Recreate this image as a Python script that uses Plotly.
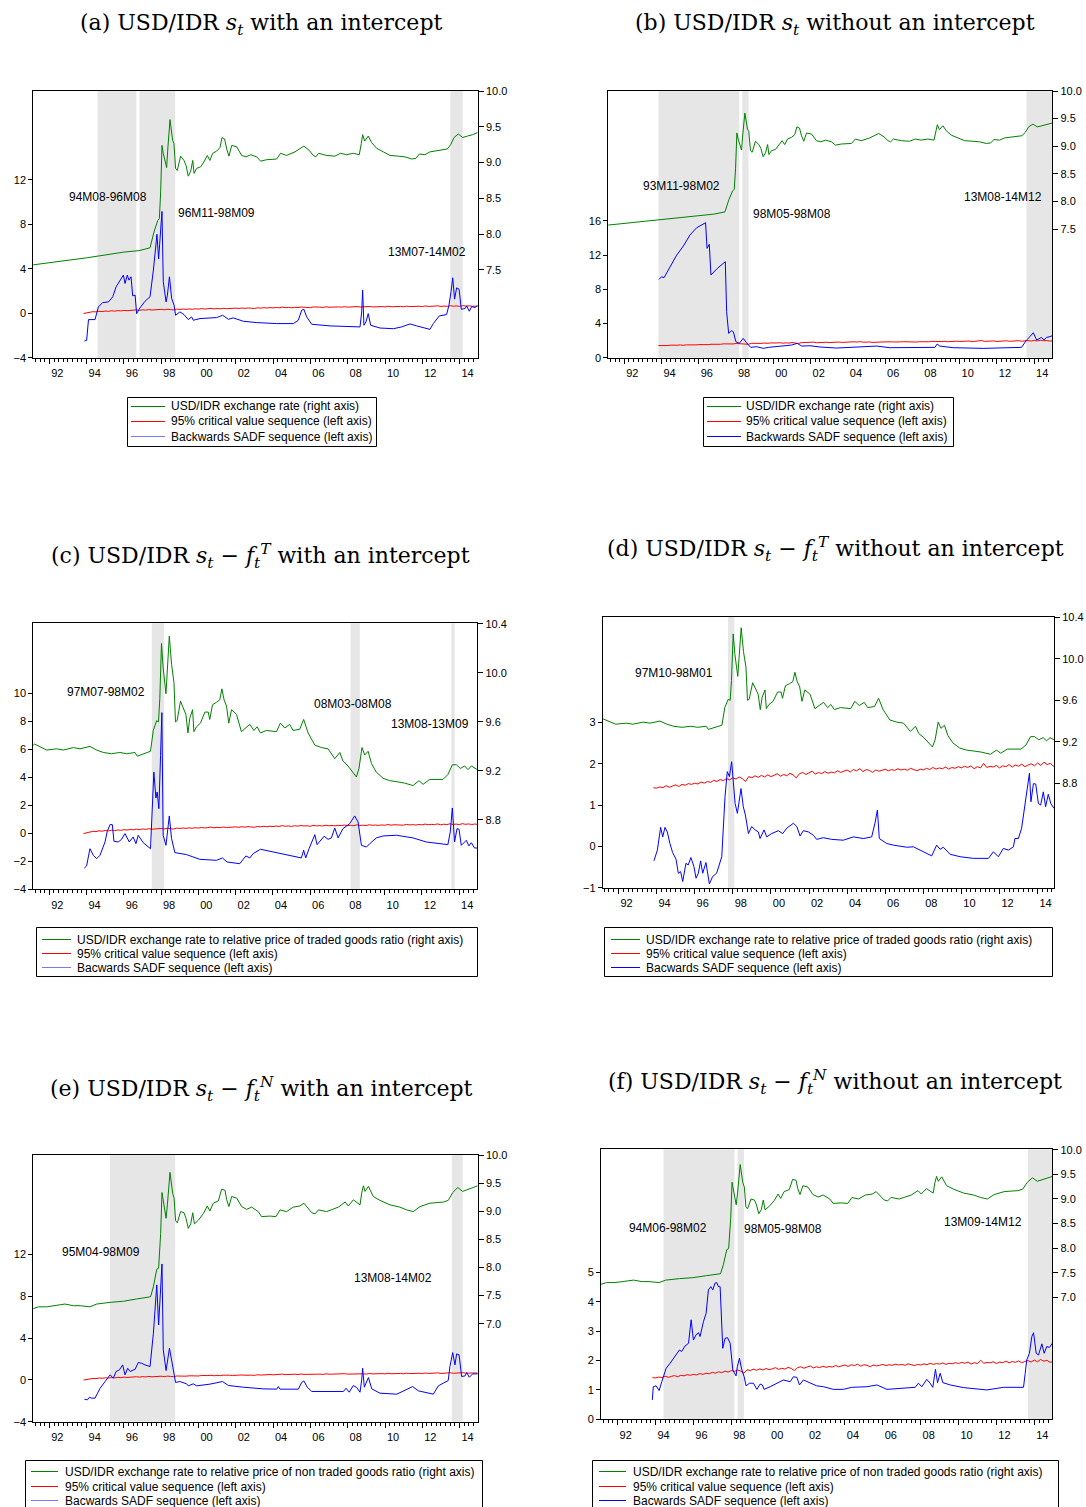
import plotly.graph_objects as go

# ------------------------------------------------------------------ data
# decimal years (year + (month-1)/12)

# USD/IDR s_t (right axis, panels a & b)
S_X = [1991.08, 1994.0, 1996.0, 1996.8, 1997.4, 1997.61, 1997.81, 1997.9, 1997.97, 1998.04,
       1998.11, 1998.2, 1998.29, 1998.36, 1998.47, 1998.61, 1998.68, 1998.77, 1998.86, 1999.04,
       1999.22, 1999.33, 1999.45, 1999.58, 1999.69, 1999.76, 1999.9, 2000.11, 2000.29, 2000.47,
       2000.61, 2000.76, 2000.97, 2001.15, 2001.26, 2001.4, 2001.51, 2001.63, 2001.78, 2002.05,
       2002.31, 2002.55, 2002.8, 2003.12, 2003.33, 2003.65, 2004.19, 2004.4, 2004.72, 2005.17,
       2005.65, 2005.94, 2006.15, 2006.29, 2006.44, 2006.87, 2007.31, 2007.62, 2007.94, 2008.29,
       2008.62, 2008.73, 2008.8, 2008.91, 2009.1, 2009.28, 2009.55, 2009.91, 2010.27, 2010.71,
       2011.07, 2011.43, 2011.66, 2011.84, 2012.14, 2012.41, 2012.95, 2013.34, 2013.52, 2013.7,
       2013.93, 2014.16, 2014.41, 2014.7, 2014.97]
S_Y = [7.57, 7.67, 7.75, 7.77, 7.81, 8.03, 8.19, 8.22, 8.59, 9.24,
       9.13, 9.01, 8.93, 9.22, 9.60, 9.31, 9.27, 8.92, 8.89, 9.09,
       9.03, 8.96, 8.81, 8.88, 9.03, 8.85, 8.92, 8.94, 9.01, 9.10,
       9.03, 9.13, 9.16, 9.21, 9.35, 9.33, 9.19, 9.09, 9.24, 9.22,
       9.10, 9.08, 9.11, 9.08, 9.02, 9.04, 9.05, 9.13, 9.10, 9.15,
       9.23, 9.17, 9.10, 9.08, 9.13, 9.10, 9.09, 9.13, 9.11, 9.13,
       9.11, 9.27, 9.39, 9.30, 9.37, 9.28, 9.20, 9.15, 9.10, 9.09,
       9.08, 9.05, 9.06, 9.12, 9.11, 9.15, 9.17, 9.19, 9.25, 9.35,
       9.40, 9.35, 9.37, 9.39, 9.42]

# USD/IDR s_t - f_t^T (right axis, panels c & d)
T_X = [1991.08, 1991.2, 1991.86, 1992.4, 1992.75, 1993.29, 1993.65, 1994.18, 1994.54, 1994.9,
       1995.34, 1995.79, 1996.15, 1996.6, 1996.72, 1997.13, 1997.43, 1997.58, 1997.76, 1997.86,
       1997.93, 1998.02, 1998.11, 1998.26, 1998.44, 1998.56, 1998.69, 1998.77, 1998.86, 1999.04,
       1999.22, 1999.33, 1999.44, 1999.54, 1999.69, 1999.76, 1999.9, 2000.11, 2000.35, 2000.53,
       2000.61, 2000.76, 2000.97, 2001.15, 2001.26, 2001.38, 2001.51, 2001.63, 2001.78, 2002.05,
       2002.31, 2002.58, 2002.76, 2002.98, 2003.15, 2003.33, 2003.65, 2004.19, 2004.4, 2004.64,
       2004.9, 2005.08, 2005.44, 2005.65, 2005.89, 2006.25, 2006.61, 2006.96, 2007.32, 2007.59,
       2007.76, 2008.03, 2008.48, 2008.62, 2008.78, 2008.93, 2009.11, 2009.29, 2009.55, 2009.91,
       2010.27, 2010.71, 2011.07, 2011.52, 2011.84, 2012.06, 2012.41, 2013.13, 2013.39, 2013.63,
       2013.84, 2014.06, 2014.29, 2014.47, 2014.65, 2014.97]
T_Y = [9.40, 9.42, 9.37, 9.38, 9.37, 9.39, 9.38, 9.40, 9.37, 9.35,
       9.34, 9.35, 9.34, 9.35, 9.32, 9.34, 9.36, 9.53, 9.61, 9.60,
       9.79, 10.24, 10.04, 9.83, 10.30, 10.07, 9.92, 9.60, 9.61, 9.77,
       9.71, 9.66, 9.51, 9.63, 9.70, 9.52, 9.56, 9.59, 9.68, 9.68,
       9.62, 9.74, 9.76, 9.78, 9.87, 9.78, 9.73, 9.59, 9.70, 9.66,
       9.52, 9.56, 9.58, 9.53, 9.56, 9.51, 9.53, 9.52, 9.59, 9.55,
       9.58, 9.53, 9.54, 9.62, 9.51, 9.41, 9.39, 9.38, 9.30, 9.35,
       9.28, 9.24, 9.15, 9.22, 9.39, 9.33, 9.36, 9.26, 9.19, 9.14,
       9.12, 9.11, 9.10, 9.08, 9.12, 9.09, 9.13, 9.13, 9.17, 9.25,
       9.25, 9.22, 9.24, 9.21, 9.24, 9.21]

# USD/IDR s_t - f_t^N (right axis, panels e & f)
N_X = [1991.08, 1991.41, 1991.86, 1992.4, 1992.84, 1993.29, 1993.65, 1994.18, 1994.54, 1995.26,
       1995.97, 1996.68, 1997.43, 1997.58, 1997.76, 1997.86, 1997.97, 1998.04, 1998.11, 1998.26,
       1998.33, 1998.47, 1998.61, 1998.69, 1998.77, 1998.86, 1999.04, 1999.22, 1999.33, 1999.45,
       1999.58, 1999.69, 1999.78, 2000.0, 2000.27, 2000.47, 2000.61, 2000.79, 2001.06, 2001.24,
       2001.42, 2001.51, 2001.63, 2001.78, 2002.05, 2002.31, 2002.58, 2002.85, 2003.2, 2003.38,
       2003.83, 2004.15, 2004.37, 2004.72, 2005.08, 2005.44, 2005.65, 2005.94, 2006.07, 2006.25,
       2006.43, 2006.87, 2007.14, 2007.5, 2007.86, 2008.03, 2008.3, 2008.66, 2008.75, 2008.84,
       2008.93, 2009.11, 2009.37, 2009.73, 2010.27, 2010.8, 2011.16, 2011.52, 2011.88, 2012.41,
       2013.13, 2013.39, 2013.63, 2013.9, 2014.16, 2014.47, 2014.7, 2014.97]
N_Y = [7.26, 7.30, 7.30, 7.33, 7.35, 7.32, 7.32, 7.30, 7.35, 7.38,
       7.40, 7.44, 7.48, 7.66, 7.97, 7.99, 8.61, 9.34, 9.21, 8.88,
       9.12, 9.70, 9.33, 9.24, 8.84, 8.80, 9.00, 8.98, 8.88, 8.70,
       8.78, 8.98, 8.78, 8.85, 8.97, 9.10, 9.01, 9.15, 9.19, 9.40,
       9.38, 9.21, 9.09, 9.27, 9.24, 9.09, 9.04, 9.08, 9.00, 8.91,
       8.92, 8.91, 9.03, 9.00, 9.08, 9.10, 9.15, 9.03, 8.98, 8.96,
       9.03, 9.00, 9.03, 9.08, 9.17, 9.10, 9.21, 9.12, 9.33, 9.46,
       9.36, 9.45, 9.27, 9.20, 9.12, 9.08, 9.03, 9.00, 9.09, 9.15,
       9.17, 9.20, 9.34, 9.43, 9.36, 9.40, 9.43, 9.46]

# Backwards SADF sequences (left axis)
BA_X = [1993.88, 1994.0, 1994.1, 1994.45, 1994.63, 1994.86, 1995.17, 1995.4, 1995.58, 1995.76,
        1995.97, 1996.06, 1996.18, 1996.27, 1996.38, 1996.47, 1996.6, 1996.68, 1996.86, 1997.13,
        1997.4, 1997.58, 1997.77, 1997.86, 1997.97, 1998.04, 1998.11, 1998.26, 1998.33, 1998.44,
        1998.56, 1998.69, 1998.77, 1999.0, 1999.22, 1999.45, 1999.63, 1999.72, 2000.08, 2000.61,
        2000.97, 2001.29, 2001.6, 2001.87, 2002.4, 2003.12, 2004.19, 2005.08, 2005.35, 2005.53,
        2005.65, 2005.8, 2006.07, 2007.05, 2008.12, 2008.66, 2008.75, 2008.8, 2008.87, 2008.98,
        2009.1, 2009.23, 2009.73, 2010.45, 2010.89, 2011.34, 2011.7, 2012.41, 2012.59, 2012.91,
        2013.3, 2013.43, 2013.54, 2013.63, 2013.73, 2013.84, 2013.97, 2014.09, 2014.29, 2014.38,
        2014.52, 2014.65, 2014.82, 2014.97]
BA_Y = [-2.5, -2.44, -0.57, -0.57, 0.57, 0.96, 1.02, 1.48, 2.38, 2.83,
        3.43, 2.68, 3.43, 2.98, 3.28, 1.57, 1.63, -0.03, 0.48, 1.08,
        1.48, 3.89, 7.11, 4.88, 7.95, 9.16, 2.83, 1.02, 1.63, 3.28,
        1.33, 0.72, -0.18, 0.12, -0.12, -0.57, -0.33, -0.63, -0.48, -0.39,
        -0.39, -0.18, -0.54, -0.42, -0.72, -0.84, -0.93, -0.93, -0.63, 0.27,
        0.36, -0.33, -0.99, -1.14, -1.23, -1.23, 0.12, 2.08, -1.08, -0.78,
        -0.03, -1.08, -1.33, -1.39, -1.23, -0.96, -1.14, -1.45, -0.93, -0.24,
        -0.12, 0.72, 1.93, 3.19, 1.27, 2.29, 2.17, 0.36, 0.42, 0.66,
        0.18, 0.60, 0.51, 0.72]

BB_X = [1993.86, 1994.0, 1994.13, 1994.45, 1994.81, 1995.17, 1995.52, 1995.88, 1996.06, 1996.24,
        1996.36, 1996.44, 1996.56, 1996.65, 1996.99, 1997.42, 1997.49, 1997.6, 1997.76, 1997.85,
        1997.99, 1998.17, 1998.38, 1998.56, 1998.78, 1999.1, 1999.46, 1999.73, 2000.35, 2000.98,
        2001.28, 2001.52, 2001.96, 2002.5, 2003.39, 2004.29, 2005.54, 2006.25, 2007.68, 2008.67,
        2008.79, 2008.93, 2009.65, 2011.26, 2013.32, 2013.59, 2013.77, 2013.95, 2014.13, 2014.39,
        2014.52, 2014.66, 2014.84, 2014.97]
BB_Y = [9.16, 9.47, 9.36, 10.64, 12.0, 13.06, 14.35, 15.2, 15.44, 15.6,
        15.79, 12.79, 13.26, 9.67, 10.45, 11.23, 5.38, 2.85, 3.16, 3.04,
        1.87, 1.68, 2.26, 1.75, 1.21, 1.29, 1.09, 1.21, 1.33, 1.48,
        1.68, 1.36, 1.40, 1.25, 1.13, 1.25, 1.36, 1.17, 1.21, 1.21,
        1.60, 1.36, 1.17, 1.09, 1.21, 2.07, 2.46, 2.92, 2.07, 2.38,
        2.07, 2.38, 2.46, 2.57]

BC_X = [1993.88, 1994.0, 1994.18, 1994.36, 1994.54, 1994.72, 1994.99, 1995.11, 1995.26, 1995.38,
        1995.47, 1995.7, 1995.88, 1996.06, 1996.29, 1996.5, 1996.65, 1996.77, 1997.04, 1997.43,
        1997.61, 1997.72, 1997.79, 1997.88, 1997.97, 1998.04, 1998.11, 1998.26, 1998.44, 1998.56,
        1998.74, 1999.36, 2000.08, 2000.97, 2001.29, 2001.54, 2002.22, 2002.55, 2002.76, 2002.94,
        2003.33, 2003.83, 2004.9, 2005.53, 2005.65, 2005.76, 2005.94, 2006.25, 2006.37, 2006.61,
        2006.75, 2006.96, 2007.14, 2007.32, 2007.5, 2007.76, 2008.12, 2008.39, 2008.57, 2008.75,
        2009.02, 2009.2, 2009.55, 2009.91, 2010.63, 2011.52, 2012.23, 2013.39, 2013.52, 2013.63,
        2013.75, 2013.88, 2013.99, 2014.11, 2014.38, 2014.52, 2014.65, 2014.82, 2014.97]
BC_Y = [-2.48, -2.33, -1.10, -1.57, -1.81, -1.57, -0.62, 0.14, 0.62, 0.62,
        -0.57, -0.62, -0.43, -0.02, -0.62, -0.26, -0.74, -0.14, -0.67, -1.10,
        4.38, 2.52, 2.95, 1.76, 5.57, 8.62, -0.14, -0.86, 1.24, -0.38,
        -1.38, -1.52, -1.86, -1.93, -1.76, -2.05, -2.17, -1.62, -1.76, -1.45,
        -1.14, -1.29, -1.57, -1.76, -1.21, -1.76, -1.10, -0.10, -0.81, -0.38,
        -0.21, -0.43, -0.33, 0.38, -0.33, 0.33, 0.69, 1.24, 0.81, -0.86,
        -0.98, -0.74, -0.33, -0.19, -0.14, -0.33, -0.62, -0.81, 0.10, 1.81,
        -0.62, 0.33, 0.29, -0.86, -0.50, -0.90, -0.67, -1.05, -1.05]

BD_X = [1993.86, 1994.04, 1994.21, 1994.32, 1994.44, 1994.56, 1994.7, 1994.84, 1995.02, 1995.14,
        1995.26, 1995.37, 1995.54, 1995.66, 1995.8, 1995.96, 1996.07, 1996.19, 1996.31, 1996.42,
        1996.59, 1996.77, 1996.94, 1997.15, 1997.42, 1997.59, 1997.71, 1997.82, 1997.94, 1998.03,
        1998.12, 1998.24, 1998.35, 1998.43, 1998.55, 1998.66, 1998.82, 1998.99, 1999.17, 1999.34,
        1999.43, 1999.64, 1999.78, 2000.04, 2000.39, 2000.62, 2000.83, 2001.18, 2001.36, 2001.53,
        2001.7, 2001.97, 2002.23, 2002.4, 2002.75, 2003.19, 2003.8, 2004.33, 2004.85, 2005.29,
        2005.46, 2005.59, 2005.69, 2006.08, 2006.43, 2007.13, 2007.48, 2008.0, 2008.44, 2008.7,
        2008.88, 2009.05, 2009.4, 2009.93, 2010.63, 2011.42, 2011.68, 2011.94, 2012.2, 2012.47,
        2012.73, 2012.81, 2012.99, 2013.16, 2013.34, 2013.46, 2013.57, 2013.65, 2013.78, 2013.9,
        2014.04, 2014.16, 2014.3, 2014.42, 2014.56, 2014.69, 2014.86]
BD_Y = [-0.35, -0.09, 0.46, 0.23, 0.46, 0.35, 0.07, -0.15, -0.31, -0.65,
        -0.61, -0.85, -0.41, -0.45, -0.27, -0.49, -0.77, -0.65, -0.35, -0.65,
        -0.39, -0.91, -0.73, -0.65, -0.25, 1.20, 1.81, 1.69, 2.05, 1.52,
        1.04, 0.80, 1.20, 1.40, 0.96, 0.76, 0.31, 0.48, 0.40, 0.35,
        0.19, 0.40, 0.23, 0.31, 0.38, 0.31, 0.44, 0.56, 0.48, 0.25,
        0.38, 0.35, 0.27, 0.17, 0.21, 0.17, 0.15, 0.23, 0.19, 0.23,
        0.56, 0.88, 0.19, 0.07, 0.03, -0.02, -0.01, -0.13, -0.23, 0.03,
        -0.07, -0.02, -0.19, -0.25, -0.29, -0.29, -0.13, -0.25, -0.05, -0.09,
        -0.01, 0.19, 0.19, 0.44, 1.00, 1.36, 1.77, 1.08, 1.52, 1.51,
        1.04, 1.00, 1.32, 0.96, 1.26, 1.04, 0.92]

BE_X = [1993.88, 1994.04, 1994.15, 1994.27, 1994.45, 1994.72, 1994.99, 1995.26, 1995.43, 1995.58,
        1995.76, 1995.93, 1996.06, 1996.2, 1996.33, 1996.6, 1996.77, 1996.95, 1997.13, 1997.4,
        1997.58, 1997.76, 1997.86, 1997.95, 1998.04, 1998.11, 1998.26, 1998.44, 1998.58, 1998.69,
        1998.77, 1999.0, 1999.36, 1999.45, 1999.72, 1999.9, 2000.61, 2001.29, 2001.6, 2002.4,
        2003.47, 2004.19, 2004.28, 2004.37, 2005.35, 2005.53, 2005.65, 2005.83, 2006.07, 2007.77,
        2007.91, 2008.08, 2008.3, 2008.48, 2008.66, 2008.75, 2008.8, 2008.89, 2009.11, 2009.29,
        2009.73, 2010.63, 2011.07, 2011.48, 2011.79, 2012.59, 2012.86, 2013.13, 2013.39, 2013.48,
        2013.63, 2013.75, 2013.84, 2013.97, 2014.11, 2014.29, 2014.38, 2014.52, 2014.7, 2014.97]
BE_Y = [-1.85, -1.91, -1.66, -1.75, -1.75, -0.80, -0.16, 0.48, 0.16, 0.80,
        0.96, 1.43, 0.48, 1.11, 0.80, 1.02, 1.66, 1.59, 1.43, 1.27,
        4.46, 9.08, 5.25, 8.28, 11.08, 2.87, 0.89, 3.03, 1.59, 0.70,
        -0.25, -0.16, -0.38, -0.57, -0.38, -0.57, -0.41, -0.16, -0.54, -0.70,
        -0.86, -0.89, -0.64, -0.89, -0.89, -0.25, -0.10, -0.70, -1.11, -1.11,
        -0.80, -1.18, -0.54, -0.73, -1.18, 0.00, 1.11, -0.70, 0.22, -0.86,
        -1.27, -1.37, -1.02, -0.64, -1.05, -1.37, -0.57, -0.32, -0.06, 1.27,
        2.61, 1.43, 2.48, 2.39, 0.32, 0.38, 0.70, 0.25, 0.57, 0.57]

BF_X = [1993.83, 1993.88, 1994.03, 1994.19, 1994.33, 1994.56, 1994.77, 1995.03, 1995.26, 1995.38,
        1995.56, 1995.74, 1995.88, 1996.0, 1996.14, 1996.27, 1996.35, 1996.53, 1996.67, 1996.79,
        1996.92, 1997.02, 1997.14, 1997.23, 1997.32, 1997.41, 1997.55, 1997.67, 1997.8, 1997.94,
        1998.08, 1998.25, 1998.32, 1998.43, 1998.55, 1998.68, 1998.78, 1998.96, 1999.17, 1999.35,
        1999.52, 1999.64, 1999.73, 2000.05, 2000.49, 2000.75, 2001.11, 2001.28, 2001.46, 2001.6,
        2001.81, 2002.16, 2002.51, 2002.87, 2003.39, 2003.92, 2004.36, 2005.16, 2005.69, 2006.22,
        2006.92, 2007.71, 2007.88, 2008.06, 2008.32, 2008.5, 2008.64, 2008.78, 2008.89, 2009.03,
        2009.17, 2009.56, 2010.26, 2011.49, 2012.37, 2013.43, 2013.52, 2013.6, 2013.74, 2013.87,
        2013.96, 2014.1, 2014.22, 2014.4, 2014.52, 2014.66, 2014.8, 2014.95]
BF_Y = [0.66, 1.11, 1.14, 0.98, 1.28, 1.74, 1.91, 2.16, 2.36, 2.31,
        2.50, 2.59, 3.39, 2.70, 2.88, 2.95, 2.82, 3.33, 3.61, 4.41,
        4.52, 4.41, 4.64, 4.66, 4.52, 4.52, 2.42, 2.76, 2.78, 2.59,
        1.68, 1.48, 1.80, 2.08, 1.70, 1.45, 1.14, 1.23, 1.23, 1.02,
        1.20, 1.17, 1.02, 1.11, 1.25, 1.34, 1.28, 1.45, 1.43, 1.17,
        1.34, 1.25, 1.14, 1.11, 1.02, 1.02, 1.09, 1.11, 1.17, 1.02,
        1.06, 1.09, 1.23, 1.11, 1.36, 1.23, 1.09, 1.70, 1.25, 1.57,
        1.25, 1.17, 1.08, 1.00, 1.09, 1.09, 1.57, 2.02, 2.25, 2.82,
        2.95, 2.25, 2.19, 2.57, 2.25, 2.48, 2.45, 2.59]

# 95% critical value sequences, every second month from 1993M11
RED_START = 1993 + 10 / 12
RED_STEP = 2 / 12
RED_INT = [-0.02, 0.05, 0.10, 0.14, 0.12, 0.18, 0.15, 0.20, 0.17, 0.22, 0.19, 0.24,
           0.21, 0.26, 0.23, 0.27, 0.25, 0.30, 0.26, 0.31, 0.28, 0.33, 0.29, 0.32,
           0.30, 0.35, 0.31, 0.36, 0.33, 0.30, 0.37, 0.34, 0.38, 0.35, 0.39, 0.36,
           0.40, 0.37, 0.42, 0.38, 0.41, 0.44, 0.39, 0.43, 0.40, 0.45, 0.41, 0.44,
           0.42, 0.46, 0.43, 0.47, 0.44, 0.48, 0.45, 0.43, 0.49, 0.46, 0.50, 0.47,
           0.51, 0.48, 0.52, 0.49, 0.55, 0.50, 0.53, 0.49, 0.54, 0.51, 0.56, 0.52,
           0.54, 0.50, 0.57, 0.53, 0.55, 0.52, 0.58, 0.54, 0.56, 0.53, 0.57, 0.55,
           0.59, 0.55, 0.57, 0.54, 0.60, 0.56, 0.58, 0.55, 0.61, 0.57, 0.59, 0.56,
           0.60, 0.57, 0.63, 0.58, 0.61, 0.59, 0.62, 0.58, 0.64, 0.60, 0.62, 0.59,
           0.63, 0.60, 0.66, 0.61, 0.64, 0.62, 0.67, 0.61, 0.65, 0.62, 0.68, 0.63,
           0.66, 0.62, 0.69, 0.64, 0.67, 0.63, 0.66, 0.64]
RED_NOINT = [1.42, 1.41, 1.44, 1.42, 1.47, 1.43, 1.46, 1.49, 1.45, 1.50, 1.48, 1.52,
             1.50, 1.53, 1.51, 1.56, 1.53, 1.57, 1.55, 1.60, 1.57, 1.62, 1.59, 1.64,
             1.61, 1.66, 1.63, 1.68, 1.64, 1.57, 1.69, 1.66, 1.71, 1.67, 1.72, 1.68,
             1.73, 1.69, 1.72, 1.76, 1.70, 1.74, 1.71, 1.77, 1.73, 1.66, 1.76, 1.79,
             1.74, 1.78, 1.82, 1.75, 1.79, 1.76, 1.81, 1.77, 1.80, 1.78, 1.83, 1.79,
             1.82, 1.85, 1.80, 1.86, 1.83, 1.88, 1.81, 1.86, 1.84, 1.79, 1.85, 1.82,
             1.84, 1.87, 1.83, 1.86, 1.84, 1.88, 1.85, 1.87, 1.84, 1.89, 1.86, 1.83,
             1.87, 1.85, 1.89, 1.86, 1.91, 1.87, 1.90, 1.88, 1.92, 1.87, 1.91, 1.89,
             1.93, 1.90, 1.94, 1.91, 1.95, 1.88, 1.93, 1.90, 2.01, 1.91, 1.94, 1.92,
             1.96, 1.90, 1.95, 1.93, 1.98, 1.92, 1.97, 1.94, 1.99, 1.93, 1.97, 2.00,
             1.95, 2.02, 1.96, 2.04, 1.98, 2.01, 1.94, 1.97]

# bubble periods (start of first month, end of last month) and their labels
SH_A = [(1994 + 7 / 12, 1996 + 8 / 12), (1996 + 10 / 12, 1998 + 9 / 12), (2013 + 6 / 12, 2014 + 2 / 12)]
SH_B = [(1993 + 10 / 12, 1998 + 2 / 12), (1998 + 4 / 12, 1998 + 8 / 12), (2013 + 7 / 12, 2015.0)]
SH_C = [(1997 + 6 / 12, 1998 + 2 / 12), (2008 + 2 / 12, 2008 + 8 / 12), (2013 + 7 / 12, 2013 + 9 / 12)]
SH_D = [(1997 + 9 / 12, 1998 + 1 / 12)]
SH_E = [(1995 + 3 / 12, 1998 + 9 / 12), (2013 + 7 / 12, 2014 + 2 / 12)]
SH_F = [(1994 + 5 / 12, 1998 + 2 / 12), (1998 + 4 / 12, 1998 + 8 / 12), (2013 + 8 / 12, 2015.0)]

LAB_A = ["94M08-96M08", "96M11-98M09", "13M07-14M02"]
LAB_B = ["93M11-98M02", "98M05-98M08", "13M08-14M12"]
LAB_C = ["97M07-98M02", "08M03-08M08", "13M08-13M09"]
LAB_D = ["97M10-98M01"]
LAB_E = ["95M04-98M09", "13M08-14M02"]
LAB_F = ["94M06-98M02", "98M05-98M08", "13M09-14M12"]

LEG_AB = ["USD/IDR exchange rate (right axis)", "95% critical value sequence (left axis)",
          "Backwards SADF sequence (left axis)"]
LEG_CD = ["USD/IDR exchange rate to relative price of traded goods ratio (right axis)",
          "95% critical value sequence (left axis)", "Bacwards SADF sequence (left axis)"]
LEG_EF = ["USD/IDR exchange rate to relative price of non traded goods ratio (right axis)",
          "95% critical value sequence (left axis)", "Bacwards SADF sequence (left axis)"]

YEAR_TICKS = list(range(1992, 2015, 2))
YEAR_LABELS = ["%02d" % (y % 100) for y in YEAR_TICKS]

for xs, ys in [(S_X, S_Y), (T_X, T_Y), (N_X, N_Y), (BA_X, BA_Y), (BB_X, BB_Y), (BC_X, BC_Y),
               (BD_X, BD_Y), (BE_X, BE_Y), (BF_X, BF_Y)]:
    assert len(xs) == len(ys)
assert len(RED_INT) == len(RED_NOINT)
RED_X = [RED_START + i * RED_STEP for i in range(len(RED_INT))]

# ------------------------------------------------------------------ style / layout
W, H = 1086, 1507
GREEN, RED, BLUE = "#008000", "#ff0000", "#0000ff"
SANS = "Liberation Sans, Arial, sans-serif"
SERIF = "DejaVu Serif, serif"
SHADE = "#e6e6e6"

S = "<i>s</i><sub><i>t</i></sub>"
ST = S + " \u2212 <i>f</i><sub><i>t</i></sub><sup><i>T</i></sup>"
SN = S + " \u2212 <i>f</i><sub><i>t</i></sub><sup><i>N</i></sup>"

panels = [
    dict(frame=(33.3, 477.7, 91, 357.7), xr=(1991.14, 2014.97), yl=(-4, 20.0), yr=(6.275, 10.0),
         ylt=[-4, 0, 4, 8, 12], yrt=[7.5, 8.0, 8.5, 9.0, 9.5, 10.0],
         g=(S_X, S_Y), b=(BA_X, BA_Y), r=RED_INT, sh=SH_A, lab=LAB_A,
         labpos=[(108, 196.7), (216.8, 213.3), (426.8, 251.7)],
         title="(a) USD/IDR " + S + " with an intercept", tpos=(260.5, 24.5),
         leg=LEG_AB, box=(127.5, 397.5, 376.5, 446.5), lx=(131, 165), tx=169,
         rows=(406.5, 421.5, 436.5), lblue="#7878ff"),
    dict(frame=(608.3, 1052.3, 91, 357.7), xr=(1991.14, 2014.97), yl=(0, 31.2), yr=(5.17, 10.0),
         ylt=[0, 4, 8, 12, 16], yrt=[7.5, 8.0, 8.5, 9.0, 9.5, 10.0],
         g=(S_X, S_Y), b=(BB_X, BB_Y), r=RED_NOINT, sh=SH_B, lab=LAB_B,
         labpos=[(681.7, 185.7), (791.7, 214), (1002.8, 197)],
         title="(b) USD/IDR " + S + " without an intercept", tpos=(835, 24.5),
         leg=LEG_AB, box=(703.5, 397.5, 953.5, 446.5), lx=(707, 741), tx=744,
         rows=(406.5, 421.5, 436.5), lblue=BLUE),
    dict(frame=(33.3, 477.3, 623.3, 889.3), xr=(1991.14, 2014.97), yl=(-4, 15.0), yr=(8.233, 10.405),
         ylt=[-4, -2, 0, 2, 4, 6, 8, 10], yrt=[8.8, 9.2, 9.6, 10.0, 10.4],
         g=(T_X, T_Y), b=(BC_X, BC_Y), r=RED_INT, sh=SH_C, lab=LAB_C,
         labpos=[(105.8, 691.7), (353.3, 703.7), (430, 723.7)],
         title="(c) USD/IDR " + ST + " with an intercept", tpos=(260.5, 556),
         leg=LEG_CD, box=(36.5, 927.5, 477.5, 976.5), lx=(42, 71), tx=75,
         rows=(939.5, 953.5, 967.5), lblue="#7878ff"),
    dict(frame=(602.7, 1054, 616.7, 887.7), xr=(1991.17, 2014.86), yl=(-1, 5.56), yr=(7.794, 10.406),
         ylt=[-1, 0, 1, 2, 3], yrt=[8.8, 9.2, 9.6, 10.0, 10.4],
         g=(T_X, T_Y), b=(BD_X, BD_Y), r=RED_NOINT, sh=SH_D, lab=LAB_D,
         labpos=[(673.8, 673.3)],
         title="(d) USD/IDR " + ST + " without an intercept", tpos=(835, 549),
         leg=LEG_CD, box=(604.5, 927.5, 1052.5, 976.5), lx=(611, 640), tx=644,
         rows=(939.5, 953.5, 967.5), lblue=BLUE),
    dict(frame=(33.3, 477.7, 1155, 1421.7), xr=(1991.14, 2014.97), yl=(-4, 21.5), yr=(5.25, 10.01),
         ylt=[-4, 0, 4, 8, 12], yrt=[7.0, 7.5, 8.0, 8.5, 9.0, 9.5, 10.0],
         g=(N_X, N_Y), b=(BE_X, BE_Y), r=RED_INT, sh=SH_E, lab=LAB_E,
         labpos=[(100.8, 1252.3), (393, 1277.7)],
         title="(e) USD/IDR " + SN + " with an intercept", tpos=(261, 1088.5),
         leg=LEG_EF, box=(25.5, 1460.5, 482.5, 1515), lx=(31, 58), tx=63,
         rows=(1471.5, 1486.5, 1500.5), lblue="#7878ff"),
    dict(frame=(601, 1052.3, 1149.3, 1419.3), xr=(1991.12, 2014.95), yl=(0, 9.2), yr=(4.52, 10.01),
         ylt=[0, 1, 2, 3, 4, 5], yrt=[7.0, 7.5, 8.0, 8.5, 9.0, 9.5, 10.0],
         g=(N_X, N_Y), b=(BF_X, BF_Y), r=RED_NOINT, sh=SH_F, lab=LAB_F,
         labpos=[(667.8, 1227.7), (783, 1229.3), (982.5, 1221.7)],
         title="(f) USD/IDR " + SN + " without an intercept", tpos=(835, 1081.5),
         leg=LEG_EF, box=(592.5, 1460.5, 1058.5, 1515), lx=(599, 626), tx=631,
         rows=(1471.5, 1486.5, 1500.5), lblue=BLUE),
]


def fx(v):
    return v / W


def fy(v):
    return 1 - v / H


fig = go.Figure()
layout = dict(width=W, height=H, margin=dict(l=0, r=0, t=0, b=0, autoexpand=False),
              paper_bgcolor="white", plot_bgcolor="white", showlegend=False,
              font=dict(family=SANS, size=11, color="black"))
shapes, annotations = [], []

for k, p in enumerate(panels, start=1):
    xa = "x" if k == 1 else "x%d" % k
    il, ir = 2 * k - 1, 2 * k
    yl = "y" if il == 1 else "y%d" % il
    yr = "y%d" % ir
    xkey = "xaxis" if k == 1 else "xaxis%d" % k
    ylkey = "yaxis" if il == 1 else "yaxis%d" % il
    yrkey = "yaxis%d" % ir
    x0, x1, y0, y1 = p["frame"]

    tf = dict(family=SANS, size=11, color="black")
    layout[xkey] = dict(domain=[fx(x0), fx(x1)], anchor=yl, range=list(p["xr"]),
                        tickmode="array", tickvals=YEAR_TICKS, ticktext=YEAR_LABELS,
                        ticks="outside", ticklen=5, tickwidth=1, tickcolor="black",
                        showline=True, linecolor="black", linewidth=1, mirror=True,
                        showgrid=False, zeroline=False, tickfont=tf, ticklabelshift=8,
                        minor=dict(ticks="outside", ticklen=3, dtick=0.25, tick0=1991,
                                   tickcolor="black", showgrid=False))
    layout[ylkey] = dict(domain=[fy(y1), fy(y0)], anchor=xa, range=list(p["yl"]),
                         tickmode="array", tickvals=p["ylt"], ticks="outside", ticklen=4,
                         tickcolor="black", showline=True, linecolor="black", linewidth=1,
                         showgrid=False, zeroline=False, tickfont=tf, side="left")
    layout[yrkey] = dict(overlaying=yl, anchor=xa, side="right", range=list(p["yr"]),
                         tickmode="array", tickvals=p["yrt"], tickformat=".1f",
                         ticks="outside", ticklen=5, tickcolor="black", showline=True,
                         linecolor="black", linewidth=1, showgrid=False, zeroline=False,
                         tickfont=tf)

    fig.add_trace(go.Scatter(x=RED_X, y=p["r"], xaxis=xa, yaxis=yl, mode="lines",
                             line=dict(color=RED, width=1), hoverinfo="skip"))
    fig.add_trace(go.Scatter(x=p["b"][0], y=p["b"][1], xaxis=xa, yaxis=yl, mode="lines",
                             line=dict(color=BLUE, width=1), hoverinfo="skip"))
    fig.add_trace(go.Scatter(x=p["g"][0], y=p["g"][1], xaxis=xa, yaxis=yr, mode="lines",
                             line=dict(color=GREEN, width=1), hoverinfo="skip"))

    for (s, e) in p["sh"]:
        shapes.append(dict(type="rect", xref=xa, yref=yl + " domain", x0=s,
                           x1=min(e, p["xr"][1]), y0=0, y1=1, fillcolor=SHADE,
                           line=dict(width=0), layer="below"))
    for txt, (cx, cy) in zip(p["lab"], p["labpos"]):
        annotations.append(dict(text=txt, x=fx(cx), y=fy(cy), xref="paper", yref="paper",
                                xanchor="center", yanchor="middle", showarrow=False,
                                font=dict(family=SANS, size=12, color="black")))
    annotations.append(dict(text=p["title"], x=fx(p["tpos"][0]), y=fy(p["tpos"][1]),
                            xref="paper", yref="paper", xanchor="center", yanchor="middle",
                            showarrow=False, font=dict(family=SERIF, size=22, color="black")))
    # legend box
    bx0, by0, bx1, by1 = p["box"]
    shapes.append(dict(type="rect", xref="paper", yref="paper", x0=fx(bx0), x1=fx(bx1),
                       y0=fy(by1), y1=fy(by0), line=dict(color="black", width=1),
                       fillcolor="white", layer="above"))
    for col, txt, ry in zip([GREEN, RED, p["lblue"]], p["leg"], p["rows"]):
        shapes.append(dict(type="line", xref="paper", yref="paper", x0=fx(p["lx"][0]),
                           x1=fx(p["lx"][1]), y0=fy(ry), y1=fy(ry),
                           line=dict(color=col, width=1), layer="above"))
        annotations.append(dict(text=txt, x=fx(p["tx"]), y=fy(ry), xref="paper", yref="paper",
                                xanchor="left", yanchor="middle", showarrow=False,
                                font=dict(family=SANS, size=12, color="black")))

layout["shapes"] = shapes
layout["annotations"] = annotations
fig.update_layout(**layout)
fig.write_html("out.html", config={"displayModeBar": False},
               post_script="document.body.style.margin='0';")
